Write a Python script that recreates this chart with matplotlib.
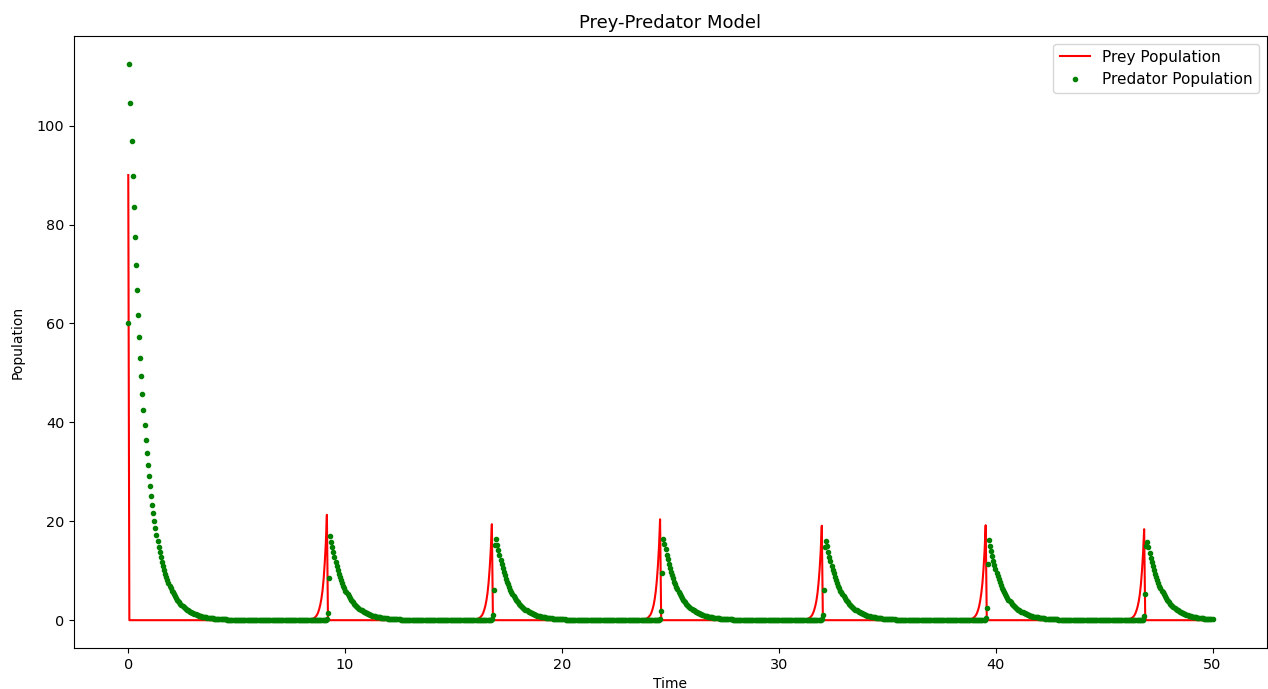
import numpy as np
import matplotlib
matplotlib.use("Agg")
from matplotlib import pyplot as plt

# time grid of the simulation output
t = np.linspace(0, 50, 1000)

# prey: starts at 90, then only the six spikes
prey_start = 90.0
peak_times = [9.16, 16.77, 24.52, 31.98, 39.52, 46.85]

# prey values on the way up to each spike (last value = the step after the peak)
prey_rise_1 = [0.1, 0.14, 0.2, 0.28, 0.4, 0.55, 0.8, 1.1, 1.6, 2.3, 3.2, 4.4, 6.0, 8.3, 11.5, 15.5, 21.3, 0.4]
prey_rise_2 = [0.1, 0.14, 0.2, 0.27, 0.38, 0.52, 0.75, 1.0, 1.45, 2.1, 2.9, 4.0, 5.5, 7.6, 10.5, 14.2, 19.4, 0.3]
prey_rise_3 = [0.1, 0.14, 0.2, 0.28, 0.39, 0.54, 0.78, 1.05, 1.5, 2.2, 3.0, 4.2, 5.8, 8.0, 11.0, 14.9, 20.4, 0.4]
prey_rise_4 = [0.1, 0.14, 0.2, 0.27, 0.37, 0.52, 0.73, 1.0, 1.45, 2.05, 2.85, 3.9, 5.4, 7.5, 10.3, 14.0, 19.1, 0.3]
prey_rise_5 = [0.1, 0.14, 0.2, 0.27, 0.37, 0.52, 0.73, 1.0, 1.45, 2.05, 2.85, 4.0, 5.5, 7.5, 10.4, 14.1, 19.2, 0.4]
prey_rise_6 = [0.1, 0.13, 0.19, 0.26, 0.36, 0.5, 0.7, 0.97, 1.4, 2.0, 2.75, 3.8, 5.2, 7.2, 10.0, 13.5, 18.4, 0.5]
prey_rises = [prey_rise_1, prey_rise_2, prey_rise_3, prey_rise_4, prey_rise_5, prey_rise_6]

# predator: first decay from the start
pred_start = [60.0, 112.5, 104.5, 96.9, 89.9, 83.5, 77.4, 71.8, 66.7, 61.8, 57.3, 53.1,
              49.3, 45.7, 42.5, 39.4, 36.5, 33.9, 31.4, 29.2, 27.1, 25.1, 23.3, 21.6,
              20.0, 18.6, 17.3, 16.0, 14.8, 13.8, 12.8, 11.8, 11.0, 10.2, 9.4, 8.8,
              8.1, 7.5, 7.0, 6.5, 6.0]

# predator around each spike, starting at the prey peak step
pred_peak_1 = [0.3, 1.5, 8.6, 17.1, 15.9, 14.7, 13.7, 12.7, 11.8, 10.9, 10.1, 9.4, 8.7, 8.1, 7.5, 7.0, 6.5, 6.0]
pred_peak_2 = [0.2, 1.0, 6.1, 15.2, 16.5, 15.3, 14.2, 13.2, 12.2, 11.3, 10.5, 9.8, 9.1, 8.4, 7.8, 7.3, 6.7, 6.1]
pred_peak_3 = [0.3, 1.8, 9.6, 16.5, 15.4, 14.3, 13.2, 12.3, 11.4, 10.6, 9.8, 9.1, 8.5, 7.8, 7.3, 6.8, 6.3]
pred_peak_4 = [0.2, 1.0, 6.1, 14.8, 16.0, 14.9, 13.8, 12.8, 11.9, 11.0, 10.2, 9.5, 8.8, 8.2, 7.6, 7.0, 6.5, 6.0]
pred_peak_5 = [0.4, 2.5, 11.3, 16.2, 15.0, 13.9, 12.9, 12.0, 11.1, 10.3, 9.6, 8.9, 8.3, 7.7, 7.1, 6.6, 6.1]
pred_peak_6 = [0.8, 5.3, 15.0, 15.8, 14.7, 13.6, 12.6, 11.7, 10.9, 10.1, 9.4, 8.7, 8.1, 7.5, 7.0, 6.5, 6.0]
pred_peaks = [pred_peak_1, pred_peak_2, pred_peak_3, pred_peak_4, pred_peak_5, pred_peak_6]

# slow tail that every predator decay shares once it is below ~6
pred_tail = [5.6, 5.2, 4.8, 4.5, 4.1, 3.8, 3.6, 3.3, 3.1, 2.9, 2.6, 2.5, 2.3, 2.1, 2.0,
             1.8, 1.7, 1.6, 1.5, 1.4, 1.3, 1.2, 1.1, 1.0, 0.92, 0.85, 0.8, 0.74, 0.68,
             0.63, 0.59, 0.55, 0.51, 0.47, 0.44, 0.4, 0.38, 0.35, 0.33, 0.3, 0.28, 0.26,
             0.24, 0.22, 0.2, 0.19, 0.17, 0.16, 0.15, 0.14, 0.13, 0.12, 0.11, 0.1, 0.09,
             0.08, 0.08, 0.07, 0.06, 0.06, 0.05]


def put(arr, start, values):
    stop = min(len(arr), start + len(values))
    arr[start:stop] = values[:stop - start]


prey = np.zeros(len(t))
pred = np.zeros(len(t))
prey[0] = prey_start
put(pred, 0, pred_start + pred_tail)
for tp, rise, head in zip(peak_times, prey_rises, pred_peaks):
    k = int(np.argmin(np.abs(t - tp)))
    put(prey, k - (len(rise) - 2), rise)
    put(pred, k, head + pred_tail)

fig = plt.figure(figsize=(12.68, 6.89), dpi=100)
plt.subplots_adjust(left=0.0584, right=0.999, bottom=0.0595, top=0.9478)
plt.plot(t, prey, "r-", label="Prey Population")
plt.plot(t, pred, "g.", label="Predator Population")
plt.title("Prey-Predator Model", fontsize=13)
plt.xlabel("Time")
plt.ylabel("Population", labelpad=9)
plt.tick_params(labelsize=10.4)
plt.legend(loc="upper right", fontsize=11)
plt.savefig("out.png", dpi=100)
